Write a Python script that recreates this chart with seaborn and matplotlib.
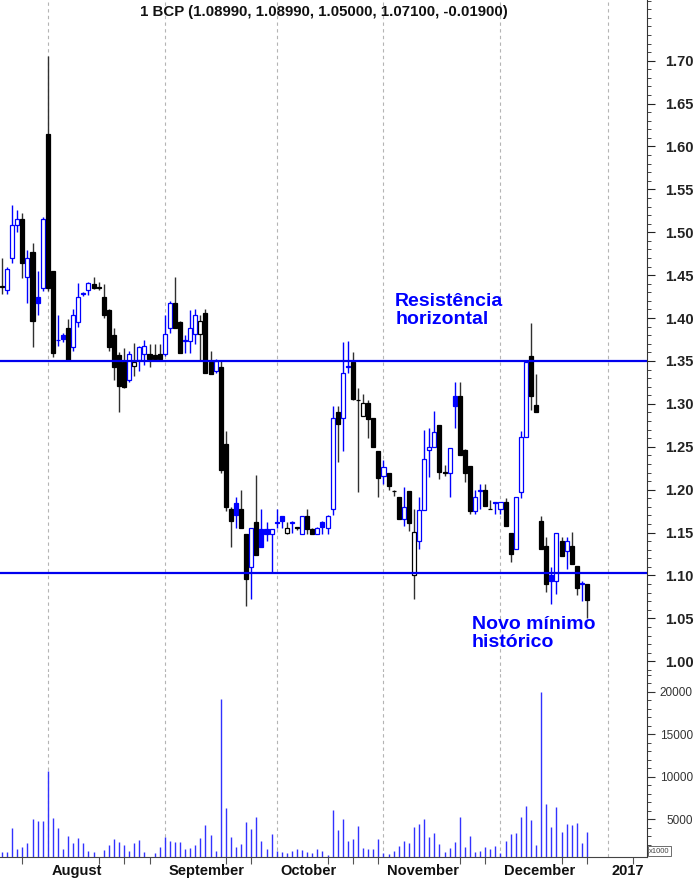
import numpy as np
import pandas as pd
import matplotlib
matplotlib.use("Agg")
import matplotlib.pyplot as plt
import matplotlib.transforms as mtransforms
from matplotlib.ticker import MultipleLocator
import seaborn as sns

# dados (BCP, Jul-Dez 2016), um candle por sessao
opens = [1.437, 1.433, 1.470, 1.508, 1.516, 1.448, 1.477, 1.425, 1.435, 1.614,
         1.455, 1.375, 1.380, 1.388, 1.366, 1.395, 1.428, 1.433, 1.440, 1.436,
         1.425, 1.409, 1.380, 1.357, 1.349, 1.328, 1.344, 1.351, 1.358, 1.358,
         1.357, 1.358, 1.358, 1.388, 1.417, 1.395, 1.373, 1.373, 1.381, 1.381,
         1.406, 1.349, 1.338, 1.343, 1.253, 1.178, 1.185, 1.178, 1.148, 1.110,
         1.162, 1.154, 1.154, 1.148, 1.162, 1.169, 1.149, 1.161, 1.156, 1.148,
         1.169, 1.154, 1.148, 1.162, 1.155, 1.178, 1.290, 1.283, 1.343, 1.349,
         1.305, 1.286, 1.301, 1.283, 1.245, 1.216, 1.220, 1.199, 1.191, 1.166,
         1.199, 1.100, 1.140, 1.176, 1.246, 1.250, 1.275, 1.221, 1.220, 1.309,
         1.309, 1.246, 1.228, 1.175, 1.199, 1.200, 1.178, 1.186, 1.177, 1.186,
         1.150, 1.131, 1.197, 1.261, 1.356, 1.299, 1.163, 1.134, 1.100, 1.094,
         1.140, 1.128, 1.134, 1.111, 1.091, 1.0899]
highs = [1.470, 1.460, 1.532, 1.526, 1.523, 1.479, 1.487, 1.455, 1.518, 1.705,
         1.455, 1.404, 1.383, 1.399, 1.410, 1.441, 1.430, 1.442, 1.448, 1.442,
         1.440, 1.411, 1.388, 1.360, 1.365, 1.362, 1.371, 1.368, 1.374, 1.370,
         1.370, 1.370, 1.404, 1.420, 1.448, 1.396, 1.380, 1.409, 1.410, 1.403,
         1.411, 1.362, 1.352, 1.350, 1.268, 1.180, 1.192, 1.200, 1.148, 1.155,
         1.217, 1.178, 1.162, 1.154, 1.177, 1.169, 1.162, 1.163, 1.157, 1.169,
         1.177, 1.155, 1.156, 1.163, 1.170, 1.298, 1.298, 1.372, 1.373, 1.360,
         1.319, 1.312, 1.304, 1.283, 1.245, 1.235, 1.220, 1.200, 1.191, 1.203,
         1.199, 1.177, 1.191, 1.270, 1.272, 1.292, 1.275, 1.229, 1.249, 1.326,
         1.326, 1.247, 1.228, 1.200, 1.207, 1.207, 1.188, 1.186, 1.186, 1.190,
         1.150, 1.191, 1.268, 1.350, 1.394, 1.335, 1.169, 1.145, 1.110, 1.150,
         1.145, 1.145, 1.151, 1.111, 1.093, 1.0899]
lows = [1.428, 1.428, 1.464, 1.500, 1.447, 1.418, 1.366, 1.404, 1.432, 1.432,
        1.355, 1.367, 1.372, 1.350, 1.362, 1.390, 1.426, 1.427, 1.434, 1.433,
        1.400, 1.362, 1.328, 1.291, 1.318, 1.325, 1.333, 1.338, 1.345, 1.343,
        1.350, 1.351, 1.356, 1.383, 1.388, 1.359, 1.359, 1.359, 1.370, 1.350,
        1.336, 1.335, 1.336, 1.220, 1.175, 1.133, 1.155, 1.155, 1.065, 1.073,
        1.124, 1.133, 1.140, 1.104, 1.155, 1.155, 1.148, 1.150, 1.153, 1.148,
        1.148, 1.148, 1.148, 1.148, 1.148, 1.170, 1.232, 1.245, 1.336, 1.305,
        1.197, 1.286, 1.260, 1.250, 1.191, 1.207, 1.200, 1.193, 1.166, 1.158,
        1.152, 1.073, 1.131, 1.176, 1.215, 1.250, 1.213, 1.216, 1.191, 1.272,
        1.240, 1.209, 1.172, 1.172, 1.178, 1.181, 1.177, 1.172, 1.172, 1.158,
        1.116, 1.131, 1.190, 1.261, 1.293, 1.290, 1.131, 1.081, 1.067, 1.078,
        1.123, 1.108, 1.113, 1.077, 1.070, 1.050]
closes = [1.436, 1.457, 1.509, 1.516, 1.464, 1.470, 1.396, 1.418, 1.516, 1.435,
          1.359, 1.374, 1.376, 1.351, 1.403, 1.425, 1.429, 1.441, 1.435, 1.435,
          1.403, 1.366, 1.343, 1.321, 1.320, 1.358, 1.349, 1.366, 1.367, 1.352,
          1.352, 1.352, 1.381, 1.418, 1.388, 1.359, 1.374, 1.388, 1.404, 1.396,
          1.336, 1.335, 1.350, 1.223, 1.180, 1.163, 1.171, 1.155, 1.096, 1.155,
          1.124, 1.133, 1.148, 1.154, 1.161, 1.163, 1.155, 1.162, 1.155, 1.169,
          1.154, 1.148, 1.155, 1.156, 1.169, 1.283, 1.276, 1.336, 1.344, 1.306,
          1.304, 1.301, 1.282, 1.250, 1.214, 1.226, 1.204, 1.198, 1.166, 1.180,
          1.161, 1.151, 1.176, 1.236, 1.250, 1.267, 1.221, 1.220, 1.249, 1.297,
          1.240, 1.220, 1.175, 1.191, 1.200, 1.181, 1.177, 1.184, 1.186, 1.158,
          1.125, 1.191, 1.261, 1.349, 1.309, 1.291, 1.131, 1.090, 1.094, 1.150,
          1.123, 1.140, 1.113, 1.085, 1.090, 1.071]
# volume em milhares
volume = [1200, 1120, 4020, 1480, 1710, 2180, 5000, 4770, 4850, 10680,
          5120, 3940, 1480, 3040, 2180, 2770, 2180, 1240, 1120, 500,
          1400, 1990, 2650, 2380, 1990, 1280, 2180, 2530, 1160, 500,
          1010, 1710, 2970, 2420, 2300, 2340, 1520, 1590, 1990, 2770,
          4300, 3120, 1280, 19140, 6370, 2890, 1750, 2100, 4730, 3830,
          5240, 2420, 1520, 3240, 1280, 1160, 1050, 1280, 1550, 1360,
          1160, 1080, 1480, 1320, 810, 6140, 3710, 5000, 2420, 2650,
          4180, 1590, 1480, 1550, 2650, 1010, 970, 1280, 1870, 2420,
          2180, 4060, 4410, 5080, 2890, 3360, 2100, 1120, 1590, 2300,
          5320, 1710, 3040, 1160, 1280, 1710, 1520, 1830, 1010, 2420,
          3240, 3360, 5320, 6610, 4960, 1990, 19960, 6800, 4140, 6450,
          3550, 4410, 4300, 4610, 2180, 3470]

month_pos = [9, 32, 54, 75, 98, 119.1]
month_labels = ['August', 'September', 'October', 'November', 'December', '2017']
week_ticks = [4, 19, 24, 29, 44, 49, 64, 69, 74, 90, 95, 110, 115, 124]
resistencia = 1.35
suporte = 1.1025

sns.set_style("white")
plt.rcParams['font.family'] = ['Liberation Sans', 'DejaVu Sans']

df = pd.DataFrame({'open': opens, 'high': highs, 'low': lows,
                   'close': closes, 'vol': volume})
df['i'] = np.arange(len(df))
prev = df['close'].shift(1)
df['cor'] = np.where(df['close'] > prev, '#0000ff', '#000000')
df['wick'] = np.where(df['close'] > prev, '#0000ff', '#303030')
df['face'] = np.where(df['close'] < df['open'], df['cor'], '#ffffff')

fig = plt.figure(figsize=(6.94, 8.80), dpi=100)
axp = fig.add_axes([0, 1 - 672 / 880, 647 / 694, 672 / 880])
axv = fig.add_axes([0, 23 / 880, 647 / 694, 185 / 880], sharex=axp)

# linhas verticais dos meses
for ax in (axp, axv):
    for m in month_pos:
        ax.axvline(m, color='#b4b4b4', ls=(0, (3, 3)), lw=0.8, zorder=0)

# candles
axp.vlines(df['i'], df['low'], df['high'], colors=df['wick'], lw=1, zorder=2)
axp.bar(df['i'], (df['close'] - df['open']).abs(),
        bottom=df[['open', 'close']].min(axis=1), width=0.8,
        color=df['face'], edgecolor=df['cor'], linewidth=0.9, zorder=3)

axp.axhline(resistencia, color='#0000ee', lw=1.6, zorder=4)
axp.axhline(suporte, color='#0000ee', lw=1.6, zorder=4)

axp.text(77.3, 1.429, 'Resistência\nhorizontal', color='#0000ff', fontsize=14,
         fontweight='bold', ha='left', va='top', linespacing=1.1)
axp.text(92.4, 1.053, 'Novo mínimo\nhistórico', color='#0000ff', fontsize=14,
         fontweight='bold', ha='left', va='top', linespacing=1.1)

axp.set_xlim(-0.39, 126.8)
axp.set_ylim(0.9875, 1.7707)
axp.yaxis.tick_right()
axp.set_yticks(np.arange(1.00, 1.701, 0.05))
axp.set_yticklabels(['%.2f' % v for v in np.arange(1.00, 1.701, 0.05)])
axp.yaxis.set_minor_locator(MultipleLocator(0.01))
axp.tick_params(axis='y', which='major', length=6, width=0.8, direction='out',
                labelsize=10.5, pad=7, colors='#222222')
axp.tick_params(axis='y', which='minor', length=3, width=0.7, direction='out',
                colors='#444444', right=True)
for t in axp.get_yticklabels():
    t.set_fontweight('bold')
axp.tick_params(axis='x', bottom=False, labelbottom=False)
for s in ['top', 'left', 'bottom']:
    axp.spines[s].set_visible(False)
axp.spines['right'].set_color('#333333')

# volume
axv.vlines(df['i'], 0, df['vol'], colors='#3232ff', lw=1, zorder=2)
axv.set_ylim(576, 22315)
axv.yaxis.tick_right()
axv.set_yticks([5000, 10000, 15000, 20000])
axv.yaxis.set_minor_locator(MultipleLocator(1000))
axv.tick_params(axis='y', which='major', length=6, width=0.8, labelsize=8.5,
                pad=27, colors='#333333')
axv.tick_params(axis='y', which='minor', length=3, width=0.7, colors='#444444',
                right=True)
for t in axv.get_yticklabels():
    t.set_horizontalalignment('right')
axv.set_xticks(month_pos)
axv.set_xticks(week_ticks, minor=True)
axv.tick_params(axis='x', which='major', length=16.5, width=1, color='#555555',
                labelbottom=False, direction='out')
axv.tick_params(axis='x', which='minor', length=5, width=0.8, color='#555555',
                bottom=True, direction='out')
for s in ['top', 'left']:
    axv.spines[s].set_visible(False)
axv.spines['right'].set_color('#333333')
axv.spines['bottom'].set_color('#444444')

trans = mtransforms.blended_transform_factory(axv.transData, fig.transFigure)
for m, lab in zip(month_pos, month_labels):
    axv.text(m + 0.7, 1 - 871 / 880, lab, transform=trans, fontsize=10.5,
             fontweight='bold', ha='left', va='center', color='#111111')

fig.text(649 / 694, 1 - 851 / 880, 'x1000', fontsize=5.5, color='#444444',
         ha='left', va='center',
         bbox=dict(boxstyle='square,pad=0.15', fc='white', ec='#555555', lw=0.6))

fig.text(324 / 694, 1 - 12 / 880,
         '1 BCP (1.08990, 1.08990, 1.05000, 1.07100, -0.01900)',
         ha='center', va='center', fontsize=10.8, fontweight='bold',
         color='#111111')

fig.savefig('out.png', dpi=100)
